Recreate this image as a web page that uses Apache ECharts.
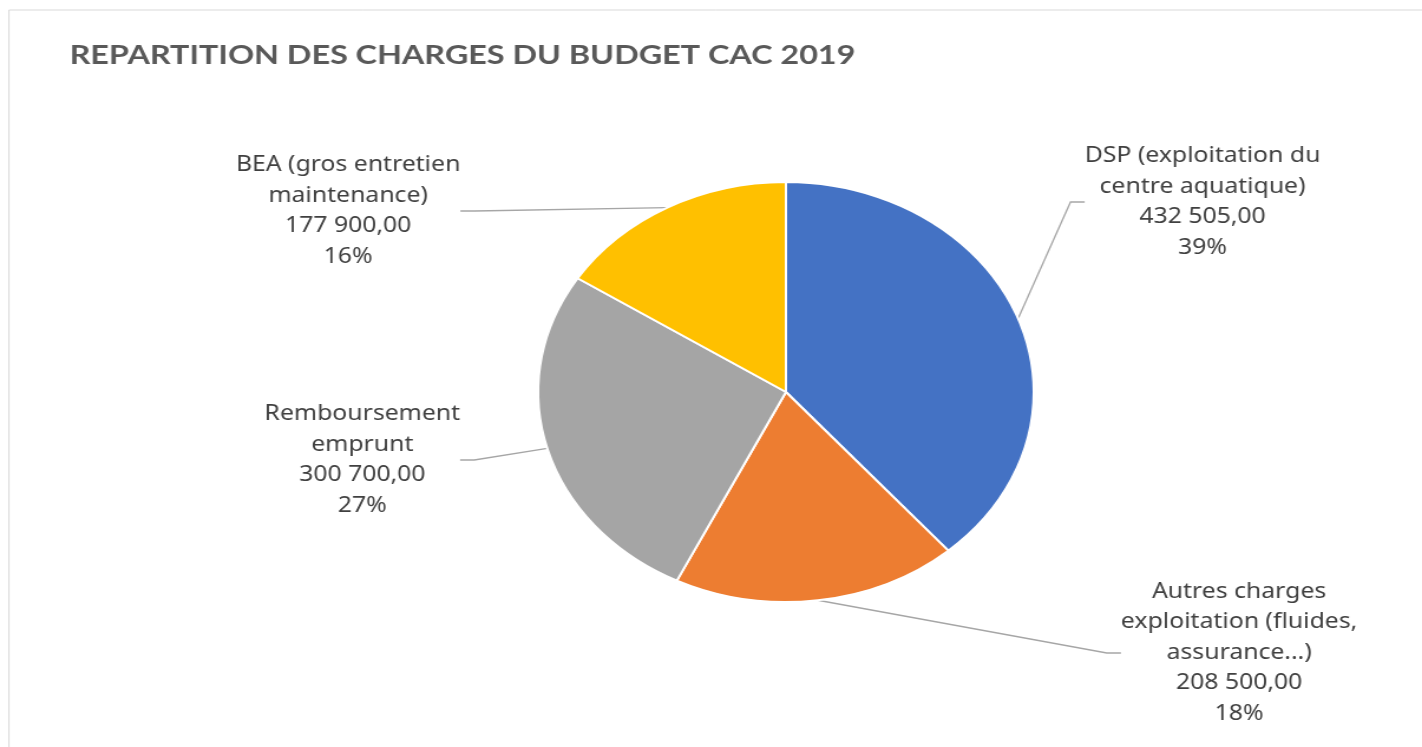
<!DOCTYPE html>
<html>
<head>
<meta charset="utf-8">
<script src="https://cdn.jsdelivr.net/npm/echarts@6/dist/echarts.min.js"></script>
<style>
  html, body { margin: 0; padding: 0; background: #fff; overflow: hidden; }
  #wrap { width: 1422px; height: 747px; overflow: hidden; }
  #chart { width: 1205px; height: 747px; transform: scaleX(1.1801); transform-origin: 0 0; }
</style>
</head>
<body>
<div id="wrap"><div id="chart"></div></div>
<script>
const titleText = 'REPARTITION DES CHARGES DU BUDGET CAC 2019';
const categories = [
  'DSP (exploitation du\ncentre aquatique)',
  'Autres charges\nexploitation (fluides,\nassurance...)',
  'Remboursement\nemprunt',
  'BEA (gros entretien\nmaintenance)'
];
const values = [432505, 208500, 300700, 177900];
const colors = ['#4472C4', '#ED7D31', '#A5A5A5', '#FFC000'];

// label anchor positions (pre-stretch coordinates)
const labelPos = [[1019, 202], [1050, 653], [307, 460], [295, 211]];

function frNum(v) {
  const parts = v.toFixed(2).split('.');
  parts[0] = parts[0].replace(/\B(?=(\d{3})+(?!\d))/g, ' ');
  return parts[0] + ',' + parts[1];
}

const chart = echarts.init(document.getElementById('chart'), null, { renderer: 'canvas' });
chart.setOption({
  animation: false,
  title: {
    text: titleText,
    left: 54,
    top: 37,
    textStyle: { fontFamily: 'Lato', fontSize: 27.4, fontWeight: 'bold', color: '#595959' }
  },
  graphic: [{
    type: 'rect',
    shape: { x: 7.6, y: 10, width: 1300, height: 800 },
    style: { fill: 'none', stroke: '#D9D9D9', lineWidth: 1 },
    silent: true
  }],
  series: [{
    type: 'pie',
    center: [666, 392],
    radius: [0, 210],
    startAngle: 90,
    clockwise: true,
    percentPrecision: 0,
    data: categories.map((c, i) => ({ name: c, value: values[i], itemStyle: { color: colors[i] } })),
    itemStyle: { borderColor: '#fff', borderWidth: 2 },
    label: {
      show: true,
      position: 'outside',
      formatter: p => p.name + '\n' + frNum(p.value) + '\n' + p.percent + '%',
      fontFamily: 'Noto Sans',
      fontSize: 21,
      lineHeight: 30.5,
      color: '#404040',
      align: 'center'
    },
    labelLine: {
      show: true,
      length: 20,
      length2: 12,
      smooth: false,
      lineStyle: { color: '#A6A6A6', width: 1.3 }
    },
    labelLayout: function (params) {
      const pos = labelPos[params.dataIndex];
      return { x: pos[0], y: pos[1], align: 'center', verticalAlign: 'middle', hideOverlap: false };
    },
    emphasis: { disabled: true }
  }]
});
</script>
</body>
</html>
